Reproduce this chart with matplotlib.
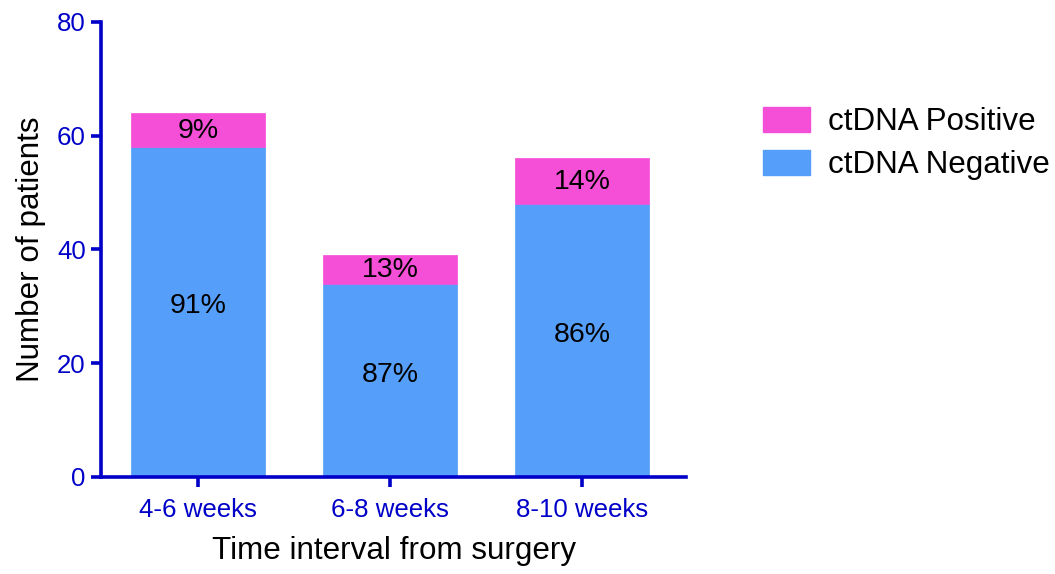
import numpy as np
import matplotlib.pyplot as plt
from matplotlib.patches import Patch

plt.rcParams["font.family"] = ["Liberation Sans", "DejaVu Sans"]

categories = ["4-6 weeks", "6-8 weeks", "8-10 weeks"]
negative = [58, 34, 48]
positive = [6, 5, 8]
neg_labels = ["91%", "87%", "86%"]
pos_labels = ["9%", "13%", "14%"]

NEG_COLOR = "#559ffa"
POS_COLOR = "#f54fd8"
AXIS_COLOR = "#0000c8"

fig = plt.figure(figsize=(10.55, 5.74), dpi=100)
ax = fig.add_axes([0.0957, 0.169, 0.555, 0.793])

x = np.arange(len(categories))
width = 0.70
ax.bar(x, negative, width, color=NEG_COLOR, edgecolor=NEG_COLOR, linewidth=0.5, zorder=2)
ax.bar(x, positive, width, bottom=negative, color=POS_COLOR, edgecolor=POS_COLOR,
       linewidth=0.5, zorder=2)

for xi, n, p, nl, pl in zip(x, negative, positive, neg_labels, pos_labels):
    ax.text(xi, n / 2 + 1, nl, ha="center", va="center", fontsize=20.5, color="black")
    ax.text(xi, n + p / 2 - 0.2, pl, ha="center", va="center", fontsize=20.5, color="black")

ax.set_xlim(-0.505, 2.545)
ax.set_ylim(0, 80)
ax.set_yticks([0, 20, 40, 60, 80])
ax.set_xticks(x)
ax.set_xticklabels(categories)

for side in ["top", "right"]:
    ax.spines[side].set_visible(False)
for side in ["left", "bottom"]:
    ax.spines[side].set_color(AXIS_COLOR)
    ax.spines[side].set_linewidth(2.6)

ax.tick_params(axis="both", colors=AXIS_COLOR, labelcolor=AXIS_COLOR, labelsize=18.6,
               length=7, width=2.6, direction="out")
ax.tick_params(axis="y", pad=4)
ax.tick_params(axis="x", pad=8)

ax.set_xlabel("Time interval from surgery", fontsize=22.6, labelpad=10)
ax.set_ylabel("Number of patients", fontsize=22.6, labelpad=8)

handles = [Patch(facecolor=POS_COLOR, edgecolor=POS_COLOR, label="ctDNA Positive"),
           Patch(facecolor=NEG_COLOR, edgecolor=NEG_COLOR, label="ctDNA Negative")]
fig.legend(handles=handles, loc="upper left", bbox_to_anchor=(0.696, 0.863), frameon=False,
           fontsize=22.6, handlelength=1.5, handleheight=0.85, handletextpad=0.6,
           labelspacing=0.4)

fig.savefig("out.png", dpi=100)
